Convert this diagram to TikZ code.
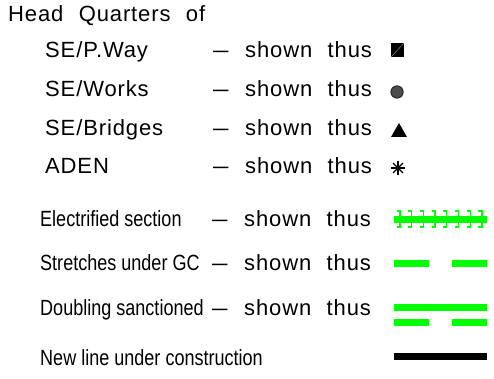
\documentclass[tikz,border=0pt]{standalone}
\usepackage{fontspec}
\setmainfont{Liberation Sans}
\newfontfamily\widefont[LetterSpace=4,WordSpace=2.2]{Liberation Sans}
\newfontfamily\narrowfont[FakeStretch=0.82]{Liberation Sans}
\definecolor{elecgreen}{RGB}{0,255,0}

\begin{document}
\begin{tikzpicture}[x=1pt,y=-1pt,
  hqtext/.style={anchor=base west,inner sep=0pt,font=\widefont\fontsize{22}{26}\selectfont},
  keytext/.style={anchor=base west,inner sep=0pt,font=\narrowfont\fontsize{22}{26}\selectfont},
  dashtext/.style={anchor=base west,inner sep=0pt,font=\fontsize{22}{26}\selectfont},
  band/.style={line width=7pt,line cap=butt}]
\useasboundingbox (0,0) rectangle (494,379);

% Head quarters
\node[hqtext] (hq) at (8,22) {Head Quarters of};
\node[hqtext] (pway) at (45,58) {SE/P.Way};
\node[hqtext] (works) at (45,97) {SE/Works};
\node[hqtext] (bridges) at (45,136) {SE/Bridges};
\node[hqtext] (aden) at (45,174) {ADEN};

\node[dashtext] (d1) at (213,58) {\scalebox{0.7}[1]{—}};
\node[dashtext] (d2) at (213,97) {\scalebox{0.7}[1]{—}};
\node[dashtext] (d3) at (213,136) {\scalebox{0.7}[1]{—}};
\node[dashtext] (d4) at (213,174) {\scalebox{0.7}[1]{—}};

\node[hqtext] (s1) at (245,58) {shown thus};
\node[hqtext] (s2) at (245,97) {shown thus};
\node[hqtext] (s3) at (245,136) {shown thus};
\node[hqtext] (s4) at (245,174) {shown thus};

% Symbols
\fill[black] (391,43) rectangle (404,57);
\draw[black!55,line width=0.6pt] (391,57) -- (404,43);
\fill[black!70] (397,92) circle (6.5);
\draw[black!85,line width=0.8pt] (397,92) circle (6.1);
\fill[black] (391,137) -- (407,137) -- (399,123) -- cycle;
\foreach \a in {0,45,...,315}
  \draw[line width=1.4pt] (398,168) -- ++(\a:7);

% Sections
\node[keytext] (elec) at (40,226) {Electrified section};
\node[keytext] (gc) at (40,270) {Stretches under GC};
\node[keytext] (dbl) at (40,315) {Doubling sanctioned};
\node[keytext] (newl) at (40,365) {New line under construction};

\node[dashtext] (d5) at (212,226) {\scalebox{0.7}[1]{—}};
\node[dashtext] (d6) at (212,270) {\scalebox{0.7}[1]{—}};
\node[dashtext] (d7) at (212,315) {\scalebox{0.7}[1]{—}};

\node[hqtext] (s5) at (244,226) {shown thus};
\node[hqtext] (s6) at (244,270) {shown thus};
\node[hqtext] (s7) at (244,315) {shown thus};

% Line styles
\draw[band,elecgreen] (394,219.5) -- (487,219.5);
\foreach \x in {400,411.7,...,483}
  \draw[elecgreen,line width=1.3pt] (\x-3.5,211) -- (\x,211) -- (\x,227) -- (\x-3.5,227);
\draw[band,elecgreen] (394,263.5) -- (429,263.5);
\draw[band,elecgreen] (452,263.5) -- (487,263.5);
\draw[band,elecgreen] (394,307.5) -- (487,307.5);
\draw[band,elecgreen] (394,322.5) -- (429,322.5);
\draw[band,elecgreen] (452,322.5) -- (487,322.5);
\draw[band,black] (394,356.5) -- (487,356.5);

\end{tikzpicture}
\end{document}
